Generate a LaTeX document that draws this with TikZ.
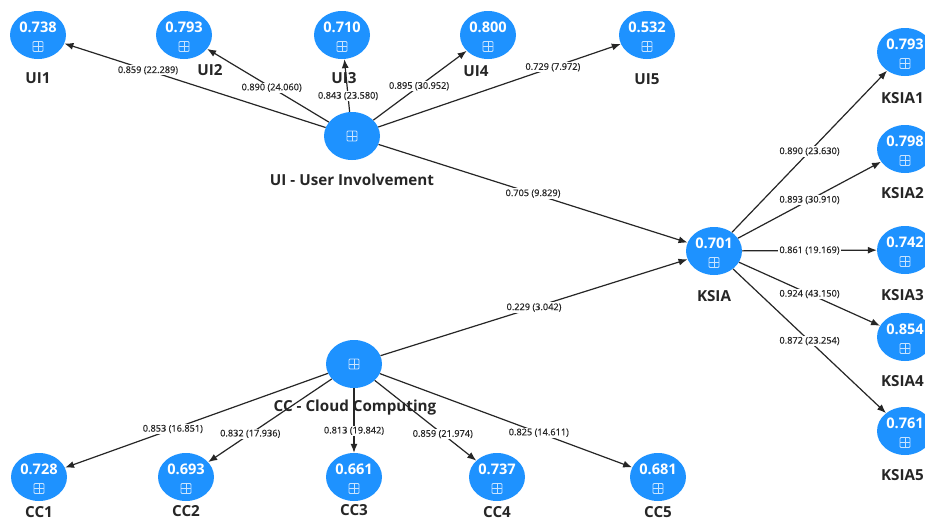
\documentclass[tikz,border=0pt]{standalone}
\usepackage{fontspec}
\setmainfont{Open Sans}
\newfontfamily\elfont[FakeBold=0.5]{Open Sans}
\usetikzlibrary{arrows.meta,shapes.geometric}
\definecolor{nodeblue}{RGB}{30,146,255}
\definecolor{iconcol}{RGB}{200,228,255}
\tikzset{
  ball/.style={ellipse, fill=nodeblue, minimum width=56pt, minimum height=48pt, inner sep=0pt},
  iconline/.style={draw=iconcol, line width=0.9pt},
  icon/.style={path picture={
    \coordinate (ic) at ([yshift=#1]path picture bounding box.center);
    \draw[iconline, rounded corners=1pt] ([shift={(-5pt,-5pt)}]ic) rectangle ([shift={(5pt,5pt)}]ic);
    \draw[iconline] ([xshift=-5pt]ic) -- ([xshift=5pt]ic);
    \draw[iconline] ([yshift=-5pt]ic) -- ([yshift=5pt]ic);}},
  val/.style={text=white, font=\bfseries\fontsize{14.6}{16}\selectfont, yshift=7.5pt, inner sep=0pt},
  ind/.style={ball, icon=-11.5pt, label={[val]center:#1}},
  hub/.style={ball, icon=0pt},
  nl/.style={font=\bfseries\fontsize{15.2}{17}\selectfont, text=black!85, inner sep=0pt},
  conn/.style={draw=black!85, line width=1.2pt, -{Latex[length=9pt,width=7pt]}},
  el/.style={fill=white, inner sep=1pt, font=\elfont\fontsize{9.2}{10}\selectfont, text=black!85},
}
\begin{document}
\begin{tikzpicture}[x=1pt,y=-1pt]
\useasboundingbox[fill=white] (0,0) rectangle (925,522);
% indicator nodes
\node[ind={0.738}] (ui1) at (38,35) {};
\node[ind={0.793}] (ui2) at (184,35) {};
\node[ind={0.710}] (ui3) at (342,35) {};
\node[ind={0.800}] (ui4) at (488,35) {};
\node[ind={0.532}] (ui5) at (647,35) {};
\node[hub] (ui) at (352,136) {};
\node[ind={0.701}] (ksia) at (714,251) {};
\node[ind={0.793}] (k1) at (905,52) {};
\node[ind={0.798}] (k2) at (905,149) {};
\node[ind={0.742}] (k3) at (905,250) {};
\node[ind={0.854}] (k4) at (905,337) {};
\node[ind={0.761}] (k5) at (905,431) {};
\node[hub] (cc) at (354,364) {};
\node[ind={0.728}] (cc1) at (39,477) {};
\node[ind={0.693}] (cc2) at (186,477) {};
\node[ind={0.661}] (cc3) at (354,477) {};
\node[ind={0.737}] (cc4) at (497,477) {};
\node[ind={0.681}] (cc5) at (658,477) {};
% names
\node[nl] (lui1) at (38,78) {UI1};
\node[nl] (lui2) at (210,70) {UI2};
\node[nl] (lui3) at (344,78) {UI3};
\node[nl] (lui4) at (476,71) {UI4};
\node[nl] (lui5) at (647,79) {UI5};
\node[nl] (lui) at (352,180) {UI - User Involvement};
\node[nl] (lksia) at (714,296) {KSIA};
\node[nl, anchor=east] (lk1) at (924,98) {KSIA1};
\node[nl, anchor=east] (lk2) at (924,193) {KSIA2};
\node[nl, anchor=east] (lk3) at (924,295) {KSIA3};
\node[nl, anchor=east] (lk4) at (924,381) {KSIA4};
\node[nl, anchor=east] (lk5) at (924,475) {KSIA5};
\node[nl] (lcc) at (355,408) {CC - Cloud Computing};
\node[nl] (lcc1) at (39,512) {CC1};
\node[nl] (lcc2) at (186,511) {CC2};
\node[nl] (lcc3) at (354,510) {CC3};
\node[nl] (lcc4) at (497,512) {CC4};
\node[nl] (lcc5) at (658,512) {CC5};
% connectors
\draw[conn] (ui) -- node[el,pos=0.68] (e1) {0.859 (22.289)} (ui1);
\draw[conn] (ui) -- node[el,pos=0.47] (e2) {0.890 (24.060)} (ui2);
\draw[conn] (ui) -- node[el,pos=0.30] (e3) {0.843 (23.580)} (ui3);
\draw[conn] (ui) -- node[el,pos=0.49] (e4) {0.895 (30.952)} (ui4);
\draw[conn] (ui) -- node[el,pos=0.72] (e5) {0.729 (7.972)} (ui5);
\draw[conn] (ui) -- node[el,pos=0.50] (e6) {0.705 (9.829)} (ksia);
\draw[conn] (cc) -- node[el,pos=0.50] (e7) {0.229 (3.042)} (ksia);
\draw[conn] (ksia) -- node[el,pos=0.50] (e8) {0.890 (23.630)} (k1);
\draw[conn] (ksia) -- node[el,pos=0.50] (e9) {0.893 (30.910)} (k2);
\draw[conn] (ksia) -- node[el,pos=0.50] (e10) {0.861 (19.169)} (k3);
\draw[conn] (ksia) -- node[el,pos=0.50] (e11) {0.924 (43.150)} (k4);
\draw[conn] (ksia) -- node[el,pos=0.50] (e12) {0.872 (23.254)} (k5);
\draw[conn] (cc) -- node[el,pos=0.59] (e13) {0.853 (16.851)} (cc1);
\draw[conn] (cc) -- node[el,pos=0.66] (e14) {0.832 (17.936)} (cc2);
\draw[conn] (cc) -- node[el,pos=0.66] (e15) {0.813 (19.842)} (cc3);
\draw[conn] (cc) -- node[el,pos=0.67] (e16) {0.859 (21.974)} (cc4);
\draw[conn] (cc) -- node[el,pos=0.63] (e17) {0.825 (14.611)} (cc5);
\end{tikzpicture}
\end{document}
